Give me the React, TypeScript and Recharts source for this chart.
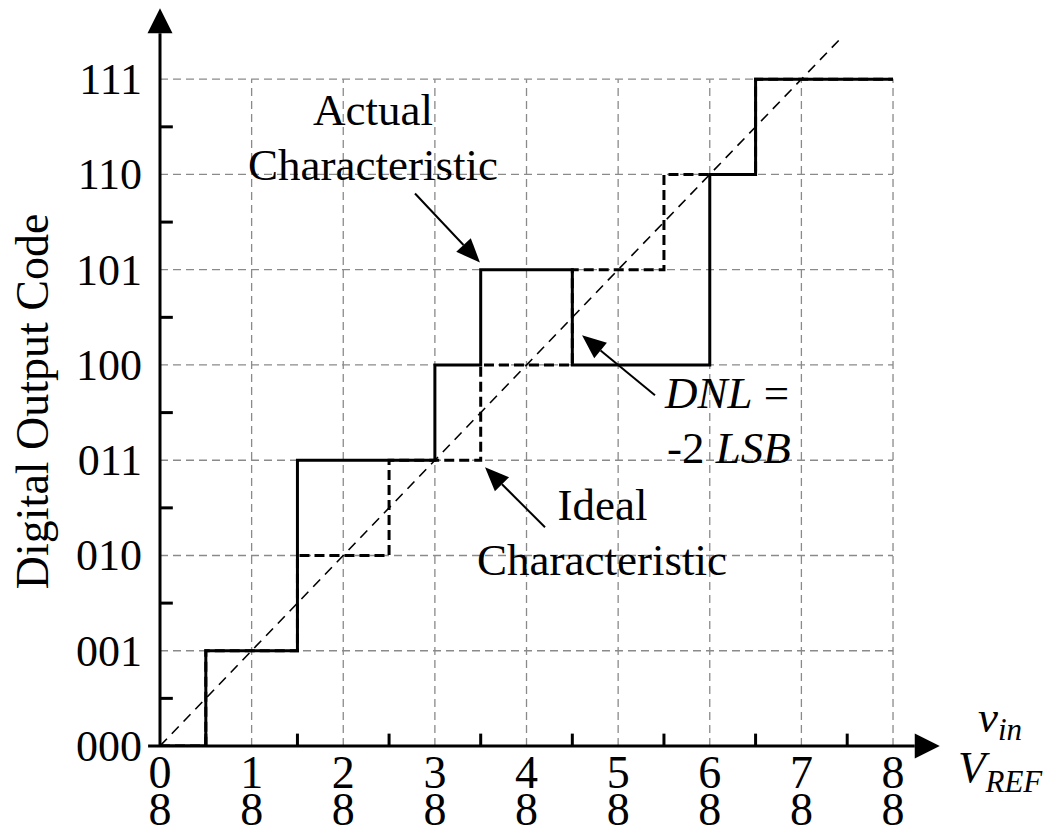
import React from 'react';
import { LineChart, Line, XAxis, YAxis, ReferenceLine, ReferenceDot } from 'recharts';

// input as fraction of VREF (in eighths), output code
const xTicks = [0, 1, 2, 3, 4, 5, 6, 7, 8];
const yTicks = [0, 1, 2, 3, 4, 5, 6, 7];
const codeLabels = ['000', '001', '010', '011', '100', '101', '110', '111'];
const denominator = '8';
const xMinor = [0.5, 1.5, 2.5, 3.5, 4.5, 5.5, 6.5, 7.5];
const yMinor = [0.5, 1.5, 2.5, 3.5, 4.5, 5.5, 6.5];

const actual = [
  { x: 0, y: 0 },
  { x: 0.5, y: 1 },
  { x: 1.5, y: 3 },
  { x: 3, y: 4 },
  { x: 3.5, y: 5 },
  { x: 4.5, y: 4 },
  { x: 6, y: 6 },
  { x: 6.5, y: 7 },
  { x: 8, y: 7 },
];

const ideal = [
  { x: 0, y: 0 },
  { x: 0.5, y: 1 },
  { x: 1.5, y: 2 },
  { x: 2.5, y: 3 },
  { x: 3.5, y: 4 },
  { x: 4.5, y: 5 },
  { x: 5.5, y: 6 },
  { x: 6.5, y: 7 },
  { x: 8, y: 7 },
];

const diagonal = [
  { x: 0, y: 0 },
  { x: 7.45, y: 7.45 },
];

const FONT = 'Liberation Serif, DejaVu Serif, serif';
const GRID = '#8a8a8a';

const arrow = (head: number, half: number, width: number) => (p: any) => {
  const { x1, y1, x2, y2 } = p;
  const dx = x2 - x1;
  const dy = y2 - y1;
  const len = Math.hypot(dx, dy) || 1;
  const ux = dx / len;
  const uy = dy / len;
  const bx = x2 - ux * head;
  const by = y2 - uy * head;
  const px = -uy;
  const py = ux;
  return (
    <g>
      <line x1={x1} y1={y1} x2={bx} y2={by} stroke="#000" strokeWidth={width} />
      <polygon
        points={`${x2},${y2} ${bx + px * half},${by + py * half} ${bx - px * half},${by - py * half}`}
        fill="#000"
      />
    </g>
  );
};

const textAt = (content: React.ReactNode, anchor: 'start' | 'middle' | 'end' = 'middle', size = 45, rotate = 0) =>
  (p: any) => (
    <text
      x={p.cx}
      y={p.cy}
      textAnchor={anchor}
      style={{ fontFamily: FONT }}
      fontSize={size}
      fill="#000"
      transform={rotate ? `rotate(${rotate} ${p.cx} ${p.cy})` : undefined}
    >
      {content}
    </text>
  );

const FracTick = (props: any) => {
  const { x, y, payload } = props;
  return (
    <g style={{ fontFamily: FONT }}>
      <text x={x} y={y + 42} textAnchor="middle" fontSize={46} fill="#000">
        {String(payload.value)}
      </text>
      <text x={x} y={y + 79} textAnchor="middle" fontSize={46} fill="#000">
        {denominator}
      </text>
    </g>
  );
};

const CodeTick = (props: any) => {
  const { x, y, payload } = props;
  return (
    <text x={x - 18} y={y + 15} textAnchor="end" style={{ fontFamily: FONT }} fontSize={44} fill="#000">
      {codeLabels[payload.value]}
    </text>
  );
};

export default function App() {
  return (
    <div style={{ position: 'absolute', left: 0, top: 0, background: '#fff', fontFamily: FONT }}>
      <LineChart width={1054} height={830} margin={{ top: 3, right: 106, bottom: 0, left: 0 }}>
        <XAxis
          type="number"
          dataKey="x"
          domain={[0, 8.6]}
          ticks={xTicks}
          allowDataOverflow
          axisLine={false}
          tickLine={false}
          tickSize={0}
          tickMargin={0}
          height={84}
          tick={<FracTick />}
          interval={0}
        />
        <YAxis
          type="number"
          dataKey="y"
          domain={[0, 7.8]}
          ticks={yTicks}
          allowDataOverflow
          axisLine={false}
          tickLine={false}
          tickSize={0}
          tickMargin={0}
          width={160}
          tick={<CodeTick />}
          interval={0}
        />

        {/* dashed grid */}
        {xTicks.slice(1).map((v) => (
          <ReferenceLine
            key={`gx${v}`}
            segment={[{ x: v, y: 0 }, { x: v, y: 7 }]}
            stroke={GRID}
            strokeWidth={1.3}
            strokeDasharray="8 5"
            ifOverflow="visible"
            zIndex={-100}
          />
        ))}
        {yTicks.slice(1).map((v) => (
          <ReferenceLine
            key={`gy${v}`}
            segment={[{ x: 0, y: v }, { x: 8, y: v }]}
            stroke={GRID}
            strokeWidth={1.3}
            strokeDasharray="8 5"
            ifOverflow="visible"
            zIndex={-100}
          />
        ))}

        <Line
          data={diagonal}
          dataKey="y"
          type="linear"
          stroke="#000"
          strokeWidth={1.6}
          strokeDasharray="10 7"
          dot={false}
          activeDot={false}
          isAnimationActive={false}
        />
        <Line
          data={ideal}
          dataKey="y"
          type="stepAfter"
          stroke="#000"
          strokeWidth={3}
          strokeDasharray="10 5"
          dot={false}
          activeDot={false}
          isAnimationActive={false}
        />
        <Line
          data={actual}
          dataKey="y"
          type="stepAfter"
          stroke="#000"
          strokeWidth={3}
          dot={false}
          activeDot={false}
          isAnimationActive={false}
        />

        {/* axes with arrowheads */}
        <ReferenceLine
          segment={[{ x: -0.13, y: 0 }, { x: 8.51, y: 0 }]}
          ifOverflow="visible"
          shape={arrow(25, 12.5, 3)}
        />
        <ReferenceLine
          segment={[{ x: 0, y: 0 }, { x: 0, y: 7.744 }]}
          ifOverflow="visible"
          shape={arrow(25, 12.5, 3)}
        />
        {xMinor.map((v) => (
          <ReferenceLine
            key={`mx${v}`}
            segment={[{ x: v, y: 0 }, { x: v, y: 0.13 }]}
            stroke="#000"
            strokeWidth={3}
            ifOverflow="visible"
          />
        ))}
        {yMinor.map((v) => (
          <ReferenceLine
            key={`my${v}`}
            segment={[{ x: 0, y: v }, { x: 0.14, y: v }]}
            stroke="#000"
            strokeWidth={3}
            ifOverflow="visible"
          />
        ))}

        {/* annotation arrows */}
        <ReferenceLine
          segment={[{ x: 2.783, y: 5.8 }, { x: 3.492, y: 5.076 }]}
          ifOverflow="visible"
          shape={arrow(24, 10, 2)}
        />
        <ReferenceLine
          segment={[{ x: 5.402, y: 3.682 }, { x: 4.606, y: 4.312 }]}
          ifOverflow="visible"
          shape={arrow(24, 10, 2)}
        />
        <ReferenceLine
          segment={[{ x: 4.202, y: 2.296 }, { x: 3.547, y: 2.926 }]}
          ifOverflow="visible"
          shape={arrow(24, 10, 2)}
        />

        {/* annotation texts */}
        <ReferenceDot x={2.325} y={6.516} ifOverflow="visible" shape={textAt('Actual')} />
        <ReferenceDot x={2.325} y={5.94} ifOverflow="visible" shape={textAt('Characteristic')} />
        <ReferenceDot x={4.829} y={2.369} ifOverflow="visible" shape={textAt('Ideal')} />
        <ReferenceDot x={4.824} y={1.792} ifOverflow="visible" shape={textAt('Characteristic')} />
        <ReferenceDot
          x={5.511}
          y={3.545}
          ifOverflow="visible"
          shape={textAt(
            <>
              <tspan fontStyle="italic">DNL</tspan>
              <tspan> =</tspan>
            </>,
            'start'
          )}
        />
        <ReferenceDot
          x={5.533}
          y={2.968}
          ifOverflow="visible"
          shape={textAt(
            <>
              <tspan>-2 </tspan>
              <tspan fontStyle="italic">LSB</tspan>
            </>,
            'start'
          )}
        />
        <ReferenceDot
          x={8.927}
          y={0.144}
          ifOverflow="visible"
          shape={textAt(
            <>
              <tspan fontStyle="italic">v</tspan>
              <tspan fontStyle="italic" fontSize={31} dy={8}>in</tspan>
            </>,
            'start'
          )}
        />
        <ReferenceDot
          x={8.709}
          y={-0.381}
          ifOverflow="visible"
          shape={textAt(
            <>
              <tspan fontStyle="italic">V</tspan>
              <tspan fontStyle="italic" fontSize={31} dy={10}>REF</tspan>
            </>,
            'start'
          )}
        />
        <ReferenceDot
          x={-1.222}
          y={3.618}
          ifOverflow="visible"
          shape={textAt('Digital Output Code', 'middle', 46, -90)}
        />
      </LineChart>
    </div>
  );
}
